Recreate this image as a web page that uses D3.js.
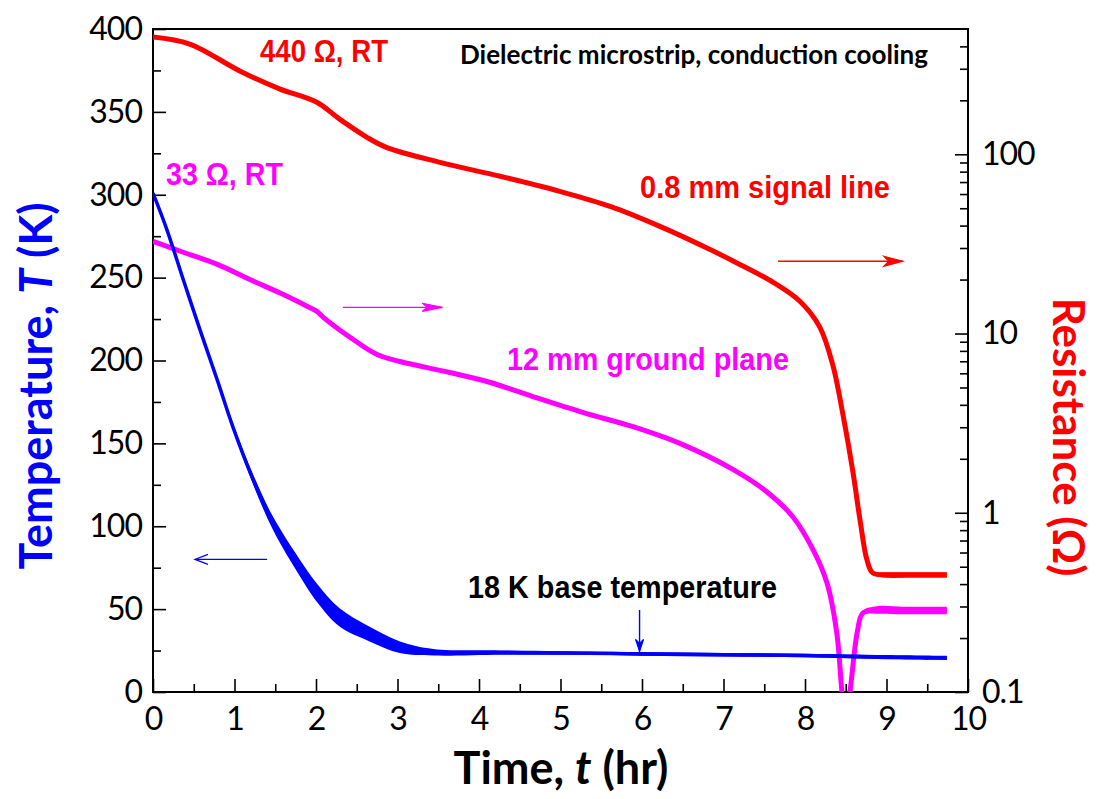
<!DOCTYPE html>
<html lang="en">
<head>
    <meta charset="UTF-8">
    <title>Dielectric microstrip, conduction cooling</title>
    <script src="https://d3js.org/d3.v7.min.js"></script>
    <style>
        body { margin: 0; background: #fff; }
        .tick text { font-family: Lato, "Open Sans", sans-serif; font-size: 32px; fill: #000; }
        .tick line { stroke: #000; stroke-width: 1.6; }
    </style>
</head>
<body>
    <div id="chart"></div>
    <script>
        // Temperature (left axis) -- time in hr, T in K, noise half-width in K
        const tempTime  = [0, 0.17, 0.37, 0.58, 0.79, 0.98, 1.23, 1.47, 1.80, 2.01, 2.29, 2.63, 3.03, 3.44, 4.26, 5.0, 6.0, 7.0, 8.0, 9.0, 9.74];
        const tempK     = [301, 279, 249, 218, 188, 160, 128, 102, 75, 60, 45, 35.6, 27, 24, 23.8, 23.5, 23, 22.5, 22, 21, 20.5];
        const tempNoise = [0.5, 1, 1, 1.5, 1.5, 2, 3, 4, 5, 5.5, 5.5, 4.5, 3.5, 2, 1.3, 1.1, 1.1, 1.1, 1.1, 1.3, 1.3];

        // 0.8 mm signal line resistance (right axis, ohm), noise as multiplicative factor
        const sigTime  = [0, 0.45, 1.07, 1.56, 2.01, 2.29, 2.63, 2.87, 3.52, 4.26, 4.99, 5.61, 6.22, 6.83, 7.20, 7.61, 7.94, 8.18, 8.34, 8.47, 8.59, 8.68, 8.76, 8.83, 9.0, 9.3, 9.6, 9.74];
        const sigOhm   = [451, 412, 291, 231, 195, 157, 124, 109, 90.2, 75.4, 62.1, 51.2, 39.6, 29.5, 24.3, 19.3, 15.1, 10.9, 6.7, 3.44, 1.67, 0.88, 0.546, 0.462, 0.45, 0.45, 0.45, 0.45];
        const sigNoise = [1, 1, 1, 1, 1, 1, 1, 1, 1, 1, 1, 1, 1, 1, 1, 1, 1, 1, 1, 1, 1, 1, 1, 1.02, 1.035, 1.035, 1.035, 1.035];

        // 12 mm ground plane resistance (right axis, ohm)
        const gndTime  = [0, 0.37, 0.79, 1.19, 1.60, 1.89, 2.01, 2.09, 2.42, 2.75, 3.03, 3.64, 4.14, 4.66, 5.28, 5.89, 6.50, 7.12, 7.53, 7.85, 8.10, 8.27, 8.39, 8.454, 8.50, 8.552, 8.64, 8.71, 8.88, 9.2, 9.5, 9.74];
        const gndOhm   = [32.7, 28.4, 24.3, 20.0, 16.5, 14.2, 13.3, 12.3, 9.5, 7.63, 6.98, 6.06, 5.33, 4.45, 3.62, 3.02, 2.40, 1.74, 1.31, 0.95, 0.621, 0.406, 0.214, 0.1, 0.07, 0.1, 0.214, 0.276, 0.287, 0.285, 0.285, 0.285];
        const gndNoise = [1, 1, 1, 1, 1, 1, 1, 1, 1, 1, 1, 1, 1, 1, 1, 1, 1, 1, 1, 1, 1, 1, 1, 1, 1, 1, 1, 1.03, 1.05, 1.05, 1.05, 1.05];

        const xTicks = d3.range(0, 11, 1);
        const tTicks = d3.range(0, 401, 50);
        const rTicks = [0.1, 1, 10, 100];

        const width = 1102, height = 799;
        const plot = {left: 153, right: 968, top: 29, bottom: 692};

        const svg = d3.select("#chart").append("svg")
            .attr("width", width)
            .attr("height", height);

        const x = d3.scaleLinear().domain([0, 10]).range([plot.left, plot.right]);
        const yT = d3.scaleLinear().domain([0, 400]).range([plot.bottom, plot.top]);
        const yR = d3.scaleLog().domain([0.1, 500]).range([plot.bottom, plot.top]);

        const defs = svg.append("defs");
        defs.append("clipPath").attr("id", "clip")
            .append("rect")
            .attr("x", plot.left).attr("y", plot.top)
            .attr("width", plot.right - plot.left).attr("height", plot.bottom - plot.top);

        // arrow heads
        function marker(id, color, d, filled) {
            defs.append("marker")
                .attr("id", id)
                .attr("markerUnits", "userSpaceOnUse")
                .attr("viewBox", "-22 -8 24 16")
                .attr("refX", 0).attr("refY", 0)
                .attr("markerWidth", 24).attr("markerHeight", 16)
                .attr("orient", "auto")
                .append("path")
                .attr("d", d)
                .attr("fill", filled ? color : "none")
                .attr("stroke", color)
                .attr("stroke-width", 1.2);
        }
        marker("openBlue", "#0000ff", "M-13,-5L0,0L-13,5", false);
        marker("barbBlue", "#0000ff", "M-12,-4L0,0L-12,4L-8,0Z", true);
        marker("barbMagenta", "#ff00ff", "M-20,-4L0,0L-20,4L-15,0Z", true);
        marker("barbRed", "#ff0000", "M-19,-5L0,0L-19,5L-14,0Z", true);

        // axes, ticks pointing inward
        svg.append("g")
            .attr("transform", `translate(0,${plot.bottom})`)
            .call(d3.axisBottom(x).tickValues(xTicks).tickSizeInner(-13).tickSizeOuter(0).tickPadding(15));
        svg.append("g")
            .attr("transform", `translate(0,${plot.bottom})`)
            .call(d3.axisBottom(x).tickValues(d3.range(0.5, 10, 1)).tickSizeInner(-8).tickSizeOuter(0).tickFormat(""));

        svg.append("g")
            .attr("transform", `translate(${plot.left},0)`)
            .call(d3.axisLeft(yT).tickValues(tTicks).tickSizeInner(-13).tickSizeOuter(0).tickPadding(11));
        svg.append("g")
            .attr("transform", `translate(${plot.left},0)`)
            .call(d3.axisLeft(yT).tickValues(d3.range(25, 400, 50)).tickSizeInner(-8).tickSizeOuter(0).tickFormat(""));

        const rMinor = [];
        [0.1, 1, 10, 100].forEach(d => d3.range(2, 10).forEach(k => { if (d * k < 500) rMinor.push(d * k); }));
        svg.append("g")
            .attr("transform", `translate(${plot.right},0)`)
            .call(d3.axisRight(yR).tickValues(rTicks).tickSizeInner(-13).tickSizeOuter(0).tickPadding(14)
                .tickFormat(d => d < 1 ? "0.1" : d3.format("d")(d)));
        svg.append("g")
            .attr("transform", `translate(${plot.right},0)`)
            .call(d3.axisRight(yR).tickValues(rMinor).tickSizeInner(-8).tickSizeOuter(0).tickFormat(""));

        svg.selectAll(".domain").remove();
        svg.selectAll(".tick text").attr("letter-spacing", "-1px");

        // frame
        svg.append("rect")
            .attr("x", plot.left).attr("y", plot.top)
            .attr("width", plot.right - plot.left).attr("height", plot.bottom - plot.top)
            .attr("fill", "none").attr("stroke", "#000").attr("stroke-width", 2);

        const lines = svg.append("g").attr("clip-path", "url(#clip)");
        const curve = d3.curveCatmullRom.alpha(0.5);

        function drawR(times, vals, noise, color) {
            const pts = times.map((t, i) => ({t, v: vals[i], n: noise[i]}));
            lines.append("path").datum(pts)
                .attr("d", d3.area().x(d => x(d.t)).y0(d => yR(d.v / d.n)).y1(d => yR(d.v * d.n)).curve(curve))
                .attr("fill", color);
            lines.append("path").datum(pts)
                .attr("d", d3.line().x(d => x(d.t)).y(d => yR(d.v)).curve(curve))
                .attr("fill", "none").attr("stroke", color).attr("stroke-width", 5);
        }
        drawR(sigTime, sigOhm, sigNoise, "#ff0000");
        drawR(gndTime, gndOhm, gndNoise, "#ff00ff");

        const tempPts = tempTime.map((t, i) => ({t, v: tempK[i], n: tempNoise[i]}));
        lines.append("path").datum(tempPts)
            .attr("d", d3.area().x(d => x(d.t)).y0(d => yT(d.v - d.n)).y1(d => yT(d.v + d.n)).curve(curve))
            .attr("fill", "#0000ff");
        lines.append("path").datum(tempPts)
            .attr("d", d3.line().x(d => x(d.t)).y(d => yT(d.v)).curve(curve))
            .attr("fill", "none").attr("stroke", "#0000ff").attr("stroke-width", 3.5);

        // arrows (data coordinates)
        const arrows = [
            {t0: 1.40, t1: 0.515, v0: 80, v1: 80, axis: "T", color: "#0000ff", m: "openBlue"},
            {t0: 2.33, t1: 3.55, v0: 14, v1: 14, axis: "R", color: "#ff00ff", m: "barbMagenta"},
            {t0: 7.67, t1: 9.20, v0: 25.3, v1: 25.3, axis: "R", color: "#ff0000", m: "barbRed"},
            {t0: 5.97, t1: 5.97, v0: 49.5, v1: 24.5, axis: "T", color: "#0000ff", m: "barbBlue"}
        ];
        arrows.forEach(a => {
            const y = a.axis === "T" ? yT : yR;
            svg.append("line")
                .attr("x1", x(a.t0)).attr("x2", x(a.t1))
                .attr("y1", y(a.v0)).attr("y2", y(a.v1))
                .attr("stroke", a.color).attr("stroke-width", 1.4)
                .attr("marker-end", `url(#${a.m})`);
        });

        // annotations
        const notes = [
            {text: "440 \u03a9, RT", x: 260, y: 62, w: 128, color: "#ff0000", size: 31},
            {text: "Dielectric microstrip, conduction cooling", x: 460, y: 64, w: 468, color: "#000", size: 26, font: "Lato, 'Open Sans', sans-serif"},
            {text: "33 \u03a9, RT", x: 166, y: 185, w: 117, color: "#ff00ff", size: 31},
            {text: "0.8 mm signal line", x: 640, y: 198, w: 250, color: "#ff0000", size: 31},
            {text: "12 mm ground plane", x: 507, y: 370, w: 282, color: "#ff00ff", size: 31},
            {text: "18 K base temperature", x: 468, y: 598, w: 309, color: "#000", size: 31}
        ];
        notes.forEach(n => {
            svg.append("text")
                .attr("x", n.x).attr("y", n.y)
                .attr("textLength", n.w).attr("lengthAdjust", "spacingAndGlyphs")
                .attr("font-family", n.font || "'Liberation Sans', Arial, sans-serif")
                .attr("font-weight", "bold")
                .attr("font-size", n.size)
                .attr("fill", n.color)
                .text(n.text);
        });

        // axis titles
        const tT = svg.append("text")
            .attr("transform", "translate(52,386) rotate(-90)")
            .attr("text-anchor", "middle")
            .attr("font-family", "Lato, 'Open Sans', sans-serif").attr("font-weight", "bold")
            .attr("font-size", 45).attr("fill", "#0000ff");
        tT.append("tspan").text("Temperature, ");
        tT.append("tspan").attr("font-style", "italic").text("T");
        tT.append("tspan").text(" (K)");

        const tX = svg.append("text")
            .attr("x", 561).attr("y", 784)
            .attr("text-anchor", "middle")
            .attr("font-family", "Lato, 'Open Sans', sans-serif").attr("font-weight", "bold")
            .attr("font-size", 45).attr("fill", "#000");
        tX.append("tspan").text("Time, ");
        tX.append("tspan").attr("font-style", "italic").text("t");
        tX.append("tspan").text(" (hr)");

        svg.append("text")
            .attr("transform", "translate(1053,437) rotate(90)")
            .attr("text-anchor", "middle")
            .attr("font-family", "Lato, 'Open Sans', sans-serif").attr("font-weight", "bold")
            .attr("font-size", 44).attr("fill", "#ff0000")
            .text("Resistance (\u03a9)");
    </script>
</body>
</html>
